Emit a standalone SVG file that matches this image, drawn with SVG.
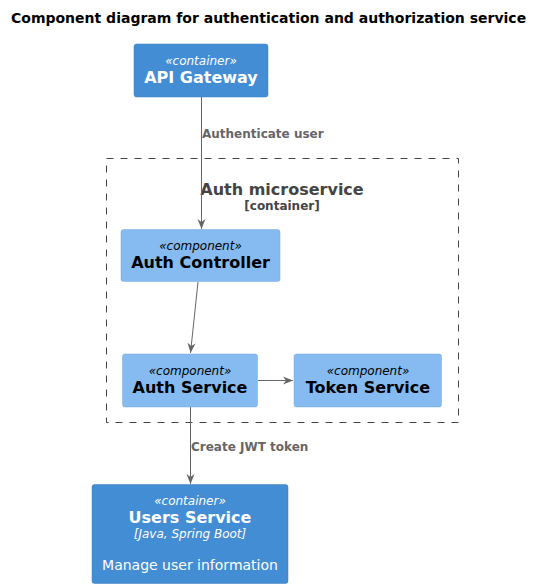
<svg xmlns="http://www.w3.org/2000/svg" width="542" height="588" viewBox="0 0 542 588">
<style>
text{font-family:"DejaVu Sans",sans-serif;text-anchor:middle}
.st{font-style:italic;font-size:12px}
.nm{font-weight:bold;font-size:16px}
.cont{fill:#438DD5;stroke:#3C7FC0;stroke-width:0.5}
.comp{fill:#85BBF0;stroke:#78A8D8;stroke-width:0.5}
.wt{fill:#FFFFFF}
.bk{fill:#000000}
.lbl{font-weight:bold;font-size:12px;fill:#666666;text-anchor:start}
.ln{stroke:#666666;stroke-width:1;fill:none}
</style>
<defs>
<marker id="ah" viewBox="0 0 10 10" refX="10" refY="5" markerWidth="10" markerHeight="10" markerUnits="userSpaceOnUse" orient="auto">
<path d="M0,1 L10,5 L0,9 L3,5 Z" fill="#666666"/>
</marker>
</defs>
<rect width="542" height="588" fill="#FFFFFF"/>
<text x="11" y="22.5" style="font-weight:bold;font-size:14px;text-anchor:start">Component diagram for authentication and authorization service</text>
<g id="boundary">
<rect x="106.5" y="158.5" width="352" height="264" fill="none" stroke="#444444" stroke-dasharray="7,7"/>
<text x="282" y="195" style="font-weight:bold;font-size:16px;fill:#444444">Auth microservice</text>
<text x="282" y="210" style="font-weight:bold;font-size:12px;fill:#444444">[container]</text>
</g>
<g id="connectors">
<line class="ln" x1="201.5" y1="97" x2="201.5" y2="229" marker-end="url(#ah)"/>
<text class="lbl" x="202" y="138">Authenticate user</text>
<line class="ln" x1="198" y1="282" x2="190.5" y2="353" marker-end="url(#ah)"/>
<line class="ln" x1="258" y1="380.5" x2="293" y2="380.5" marker-end="url(#ah)"/>
<line class="ln" x1="190.5" y1="407" x2="190.5" y2="484" marker-end="url(#ah)"/>
<text class="lbl" x="191" y="451">Create JWT token</text>
</g>
<g id="api-gateway">
<rect class="cont" x="134" y="44" width="134" height="53" rx="2.5"/>
<text class="st wt" x="201" y="65">«container»</text>
<text class="nm wt" x="201" y="83">API Gateway</text>
</g>
<g id="auth-controller">
<rect class="comp" x="121" y="229.5" width="159" height="52" rx="2.5"/>
<text class="st bk" x="200.5" y="250">«component»</text>
<text class="nm bk" x="200.5" y="268">Auth Controller</text>
</g>
<g id="auth-service">
<rect class="comp" x="122.5" y="354" width="135" height="53" rx="2.5"/>
<text class="st bk" x="190" y="375">«component»</text>
<text class="nm bk" x="190" y="393">Auth Service</text>
</g>
<g id="token-service">
<rect class="comp" x="294" y="354" width="147.5" height="53" rx="2.5"/>
<text class="st bk" x="368" y="375">«component»</text>
<text class="nm bk" x="368" y="393">Token Service</text>
</g>
<g id="users-service">
<rect class="cont" x="92" y="484.5" width="196" height="99" rx="2.5"/>
<text class="st wt" x="190" y="505">«container»</text>
<text class="nm wt" x="190" y="523">Users Service</text>
<text class="st wt" x="190" y="538">[Java, Spring Boot]</text>
<text class="wt" x="190" y="570" style="font-size:14px">Manage user information</text>
</g>
</svg>
